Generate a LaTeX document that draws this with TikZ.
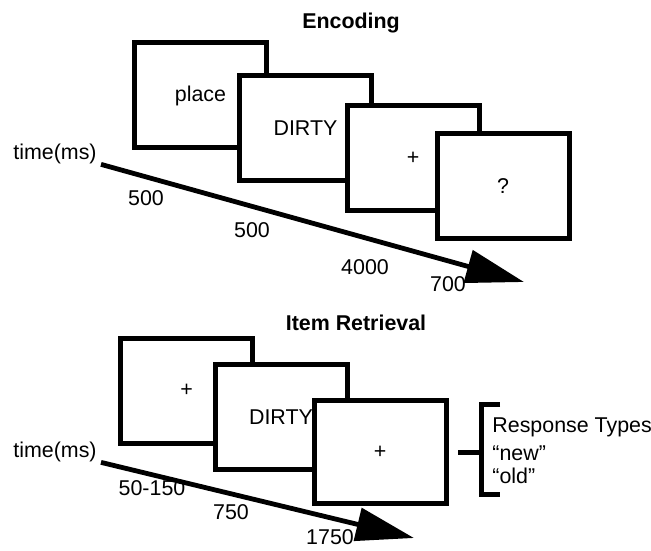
\documentclass[tikz,border=0pt]{standalone}
\usepackage{fontspec}
\setmainfont{Liberation Sans}
\usetikzlibrary{arrows.meta, positioning}
\tikzset{
  screen/.style={rectangle, draw=black, fill=white, line width=2.5pt, minimum width=66pt, minimum height=52.5pt, inner sep=0pt},
  title/.style={font=\fontsize{10.7}{11.5}\selectfont\bfseries},
  dur/.style={inner sep=0pt},
  arrow/.style={-{Triangle[length=29pt, width=16.5pt]}, line width=2.4pt},
}

\begin{document}
\begin{tikzpicture}[x=0.5pt, y=-0.5pt, font=\fontsize{10.7}{11.5}\selectfont]
\useasboundingbox (0,0) rectangle (651,550);

% encoding
\node[title] (enc) at (351,23) {Encoding};
\node[screen] (e1) at (200.5,95.5) {place};
\node[screen] (e2) at (305.5,128.5) {DIRTY};
\node[screen] (e3) at (413,158.5) {+};
\node[screen] (e4) at (503,186) {?};
\node[dur] (time1) at (55,154) {time(ms)};
\node[dur] (d1) at (146,198) {500};
\node[dur] (d2) at (252,230) {500};
\node[dur] (d3) at (365,267) {4000};
\node[dur] (d4) at (448,284) {700};
\coordinate (tip1) at (524,282);
\draw[arrow] ([xshift=2pt]time1.south east) -- (tip1);

% item retrieval
\node[title] (ret) at (356,323) {Item Retrieval};
\node[screen] (r1) at (186.5,390.5) {+};
\node[screen] (r2) at (281,417) {DIRTY};
\node[screen, minimum height=51.5pt] (r3) at (380,452) {+};
\node[dur] (time2) at (55,452) {time(ms)};
\node[dur] (f1) at (152,488) {50-150};
\node[dur] (f2) at (231,512) {750};
\node[dur] (f3) at (330,537) {1750};
\coordinate (tip2) at (414,538);
\draw[arrow] ([xshift=2pt]time2.south east) -- (tip2);

% response types
\node[dur, align=left, anchor=north west] (resp) at (492,417) {Response Types\\[2.5pt]“new”\\“old”};
\draw[line width=2.5pt] (500,404) -- (481,404) -- (481,494) -- (500,494);
\draw[line width=2.5pt] (458,452) -- (481,452);
\end{tikzpicture}
\end{document}
